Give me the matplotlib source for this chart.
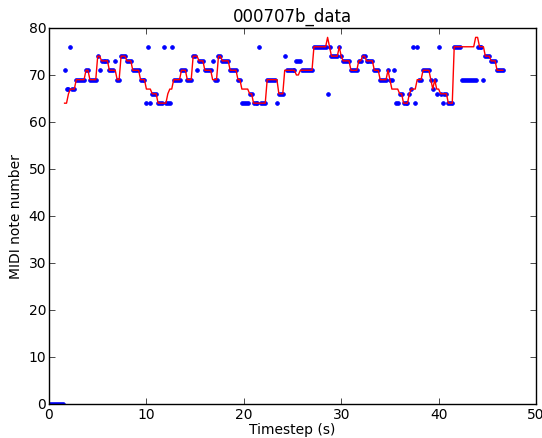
import numpy as np
import matplotlib
matplotlib.use("Agg")
import matplotlib.pyplot as plt

# frame step of both series (s)
frame_step = 0.2

# reference melody (red), run-length coded: note, number of frames
melody_start = 1.6
melody_notes = [64, 66, 67, 69, 71, 69, 74, 73, 71, 69, 74, 73, 71, 69, 67, 66, 64,
                66, 67, 69, 71, 69, 74, 73, 71, 69, 74, 73, 71, 69, 67, 66, 64, 69,
                66, 71, 70, 71, 76, 78, 76, 74, 76, 74, 73, 71, 73, 74, 73, 71, 69,
                71, 69, 67, 66, 64, 66, 67, 69, 71, 69, 67, 69, 67, 66, 64, 76, 78,
                76, 74, 73, 71]
melody_frames = [2, 1, 3, 5, 2, 4, 2, 4, 4, 2, 3, 3, 4, 3, 3, 3, 5,
                 1, 2, 4, 3, 3, 3, 3, 4, 3, 2, 4, 4, 2, 4, 2, 7, 6,
                 3, 6, 2, 7, 7, 1, 1, 4, 1, 1, 4, 4, 2, 2, 4, 3, 4,
                 1, 1, 4, 2, 3, 1, 3, 3, 4, 1, 1, 1, 2, 4, 3, 11, 2,
                 3, 3, 3, 4]

# estimated pitch (blue dots), run-length coded
estimate_start = 0.0
estimate_notes = [0, 71, 67, 76, 67, 69, 71, 69, 74, 71, 73, 71, 73, 69, 74, 73, 71,
                  69, 64, 76, 64, 66, 64, 76, 64, 76, 69, 71, 69, 74, 71, 73, 71,
                  73, 69, 74, 73, 71, 69, 64, 66, 64, 76, 64, 69, 64, 66, 74, 71,
                  73, 71, 76, 66, 76, 74, 76, 74, 73, 71, 73, 74, 73, 71, 69, 71,
                  69, 71, 64, 66, 64, 66, 67, 76, 64, 76, 69, 71, 69, 67, 69, 66,
                  76, 66, 64, 66, 64, 76, 69, 76, 69, 74, 73, 71]
estimate_frames = [8, 1, 2, 1, 2, 5, 2, 4, 1, 1, 4, 3, 1, 2, 3, 3, 4,
                   3, 1, 1, 1, 3, 3, 1, 3, 1, 4, 3, 3, 2, 1, 3, 4,
                   1, 2, 2, 4, 4, 2, 4, 2, 3, 1, 3, 5, 1, 3, 1, 5,
                   3, 6, 7, 1, 1, 4, 1, 1, 4, 4, 2, 2, 4, 3, 4, 1,
                   2, 1, 2, 2, 3, 1, 1, 1, 1, 1, 2, 4, 1, 1, 1, 1,
                   1, 1, 1, 2, 3, 4, 8, 3, 1, 3, 3, 4]


def decode(start, notes, frames):
    values = np.repeat(notes, frames)
    times = start + frame_step * np.arange(len(values))
    return times, values


est_t, est_v = decode(estimate_start, estimate_notes, estimate_frames)
mel_t, mel_v = decode(melody_start, melody_notes, melody_frames)

plt.style.use("classic")
fig = plt.figure(figsize=(5.42, 4.39), dpi=100)
ax = fig.add_axes([0.0904, 0.0775, 0.8986, 0.8565])

ax.plot(est_t, est_v, "b.", markersize=5.5)
ax.plot(mel_t, mel_v, "r-", linewidth=1.0)

ax.set_xlim(0, 50)
ax.set_ylim(0, 80)
ax.set_title("000707b_data", fontsize=12)
ax.set_xlabel("Timestep (s)", fontsize=10, labelpad=1)
ax.set_ylabel("MIDI note number", fontsize=10, labelpad=4)
ax.tick_params(labelsize=10, pad=2)

fig.savefig("out.png", dpi=100)
